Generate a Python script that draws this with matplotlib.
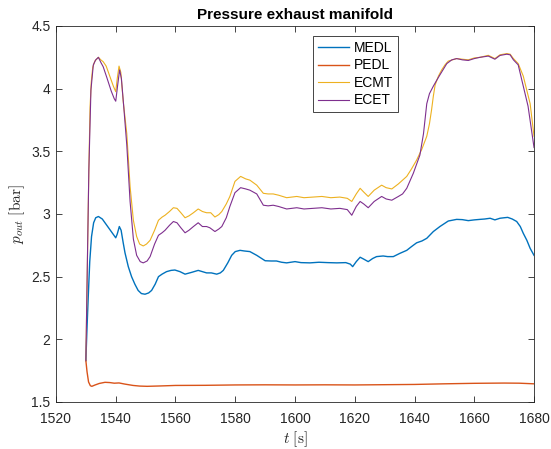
import matplotlib
matplotlib.use('Agg')
from matplotlib import pyplot as plt

plt.rcParams['font.family'] = ['Liberation Sans', 'DejaVu Sans']
plt.rcParams['mathtext.fontset'] = 'cm'

# time stamps and manifold pressure per model
t_medl = [1530.0, 1530.4, 1530.8, 1531.3, 1531.9, 1532.6, 1533.3, 1534.2, 1535.5, 1537.0,
          1538.5, 1540.0, 1540.5, 1541.2, 1541.8, 1542.5, 1543.1, 1544.2, 1545.3, 1546.4,
          1547.5, 1548.6, 1549.8, 1551.0, 1552.0, 1553.2, 1554.3, 1555.5, 1557.0, 1558.5,
          1559.8, 1561.5, 1563.2, 1565.5, 1567.6, 1569.0, 1570.4, 1572.0, 1573.8, 1575.0,
          1576.0, 1577.5, 1578.8, 1580.0, 1581.6, 1583.0, 1584.9, 1587.2, 1588.5, 1590.0,
          1592.0, 1593.8, 1595.5, 1597.2, 1600.0, 1602.0, 1605.0, 1608.0, 1611.0, 1614.0,
          1617.0, 1618.5, 1619.3, 1620.5, 1621.8, 1623.0, 1624.5, 1626.0, 1627.3, 1629.5,
          1631.0, 1632.9, 1635.1, 1637.4, 1639.0, 1640.7, 1642.5, 1644.1, 1646.3, 1648.5,
          1651.3, 1654.1, 1656.0, 1658.0, 1660.0, 1661.9, 1663.5, 1665.3, 1666.9, 1668.6,
          1670.0, 1671.2, 1672.7, 1674.2, 1675.4, 1676.4, 1677.6, 1678.7, 1680.0]
p_medl = [1.83, 2.10, 2.34, 2.62, 2.82, 2.93, 2.97, 2.98, 2.96, 2.91,
          2.86, 2.81, 2.84, 2.90, 2.87, 2.77, 2.69, 2.58, 2.50, 2.44,
          2.39, 2.365, 2.36, 2.37, 2.39, 2.44, 2.50, 2.52, 2.54, 2.55,
          2.553, 2.54, 2.52, 2.535, 2.55, 2.54, 2.53, 2.53, 2.52, 2.53,
          2.55, 2.61, 2.67, 2.70, 2.71, 2.705, 2.70, 2.67, 2.65, 2.627,
          2.625, 2.625, 2.615, 2.61, 2.62, 2.612, 2.61, 2.615, 2.612, 2.61,
          2.612, 2.60, 2.58, 2.62, 2.655, 2.64, 2.62, 2.645, 2.66, 2.665,
          2.66, 2.66, 2.686, 2.71, 2.74, 2.77, 2.785, 2.806, 2.86, 2.90,
          2.944, 2.957, 2.955, 2.947, 2.953, 2.957, 2.96, 2.966, 2.953, 2.966,
          2.97, 2.973, 2.96, 2.94, 2.90, 2.846, 2.79, 2.726, 2.67]

t_pedl = [1530.0, 1530.4, 1530.9, 1531.5, 1532.0, 1533.0, 1534.5, 1536.4, 1538.0, 1539.5,
          1541.1, 1543.0, 1545.8, 1548.0, 1550.5, 1555.0, 1560.0, 1570.0, 1580.0, 1590.0,
          1600.0, 1610.0, 1620.0, 1630.0, 1640.0, 1650.0, 1660.0, 1670.0, 1675.0, 1680.0]
p_pedl = [1.83, 1.74, 1.66, 1.63, 1.625, 1.635, 1.648, 1.657, 1.655, 1.65,
          1.652, 1.643, 1.632, 1.627, 1.625, 1.628, 1.632, 1.633, 1.636, 1.637,
          1.636, 1.637, 1.636, 1.638, 1.640, 1.645, 1.649, 1.651, 1.650, 1.645]

t_ecmt = [1530.0, 1530.5, 1531.0, 1531.4, 1531.8, 1532.3, 1533.0, 1534.2, 1535.0, 1535.8,
          1536.8, 1538.0, 1539.2, 1540.0, 1540.5, 1541.1, 1541.7, 1542.5, 1543.7, 1544.8,
          1545.9, 1547.0, 1548.0, 1549.2, 1550.3, 1551.5, 1553.0, 1554.3, 1555.5, 1556.5,
          1558.0, 1559.3, 1560.5, 1561.8, 1563.2, 1564.5, 1566.0, 1567.6, 1569.0, 1570.4,
          1571.8, 1573.2, 1574.5, 1575.5, 1577.0, 1578.2, 1579.9, 1581.8, 1583.5, 1584.9,
          1587.2, 1589.4, 1591.0, 1592.7, 1594.5, 1597.2, 1600.6, 1603.0, 1606.0, 1609.0,
          1612.0, 1615.0, 1617.5, 1619.0, 1620.5, 1621.8, 1623.0, 1624.5, 1626.5, 1629.0,
          1630.5, 1632.4, 1634.6, 1636.0, 1637.4, 1639.0, 1640.7, 1642.5, 1644.1, 1645.0,
          1645.7, 1646.3, 1646.9, 1648.0, 1649.1, 1650.2, 1651.3, 1654.1, 1656.0, 1658.0,
          1660.0, 1661.9, 1664.7, 1666.9, 1668.6, 1670.9, 1672.0, 1673.1, 1674.7, 1676.4,
          1678.7, 1680.0]
p_ecmt = [1.83, 2.6, 3.35, 3.85, 4.05, 4.17, 4.22, 4.25, 4.23, 4.215,
          4.18, 4.10, 4.02, 3.976, 4.08, 4.18, 4.13, 3.90, 3.64, 3.22,
          2.95, 2.82, 2.76, 2.745, 2.76, 2.79, 2.87, 2.95, 2.975, 2.99,
          3.02, 3.05, 3.045, 3.01, 2.97, 2.985, 3.01, 3.04, 3.02, 3.01,
          3.01, 2.976, 2.995, 3.02, 3.08, 3.14, 3.26, 3.30, 3.28, 3.27,
          3.23, 3.165, 3.16, 3.16, 3.15, 3.13, 3.14, 3.13, 3.135, 3.14,
          3.13, 3.135, 3.125, 3.10, 3.16, 3.205, 3.175, 3.14, 3.19, 3.23,
          3.21, 3.20, 3.24, 3.27, 3.30, 3.36, 3.43, 3.52, 3.62, 3.72,
          3.83, 3.94, 4.03, 4.10, 4.15, 4.19, 4.22, 4.24, 4.235, 4.23,
          4.245, 4.25, 4.266, 4.24, 4.27, 4.28, 4.275, 4.24, 4.20, 4.10,
          3.88, 3.62]

t_ecet = [1530.0, 1530.5, 1531.0, 1531.7, 1532.5, 1533.3, 1534.2, 1535.0, 1535.8, 1537.0,
          1538.5, 1539.5, 1540.0, 1540.6, 1541.3, 1541.9, 1542.7, 1543.7, 1544.8, 1545.9,
          1547.0, 1548.2, 1549.2, 1550.5, 1551.5, 1553.0, 1554.3, 1555.5, 1556.5, 1558.0,
          1559.3, 1560.5, 1561.8, 1563.2, 1564.5, 1566.0, 1567.6, 1569.0, 1570.4, 1571.5,
          1573.2, 1574.5, 1575.5, 1577.0, 1578.2, 1579.9, 1581.8, 1583.5, 1584.9, 1587.2,
          1589.4, 1591.0, 1592.7, 1594.5, 1597.2, 1600.6, 1603.0, 1606.0, 1609.0, 1612.0,
          1615.0, 1617.5, 1619.0, 1620.5, 1621.8, 1623.0, 1624.5, 1626.5, 1629.0, 1630.5,
          1632.4, 1634.6, 1636.0, 1637.4, 1639.6, 1641.8, 1643.0, 1644.1, 1645.0, 1646.3,
          1647.5, 1648.5, 1650.8, 1652.5, 1654.1, 1656.0, 1658.0, 1660.0, 1661.9, 1664.7,
          1666.9, 1668.6, 1670.9, 1672.0, 1673.1, 1674.7, 1676.4, 1678.0, 1680.0]
p_ecet = [1.83, 2.6, 3.35, 3.99, 4.19, 4.23, 4.25, 4.21, 4.175, 4.09,
          3.98, 3.92, 3.90, 4.02, 4.15, 4.08, 3.85, 3.55, 3.10, 2.80,
          2.67, 2.62, 2.61, 2.625, 2.66, 2.76, 2.83, 2.85, 2.87, 2.91,
          2.94, 2.93, 2.89, 2.85, 2.87, 2.90, 2.93, 2.90, 2.90, 2.89,
          2.86, 2.88, 2.90, 2.97, 3.06, 3.17, 3.21, 3.20, 3.19, 3.16,
          3.07, 3.065, 3.07, 3.06, 3.04, 3.05, 3.04, 3.045, 3.05, 3.04,
          3.045, 3.035, 2.99, 3.06, 3.10, 3.08, 3.05, 3.10, 3.14, 3.12,
          3.11, 3.14, 3.16, 3.205, 3.325, 3.47, 3.64, 3.88, 3.96, 4.02,
          4.07, 4.11, 4.20, 4.23, 4.24, 4.23, 4.225, 4.24, 4.25, 4.26,
          4.235, 4.265, 4.275, 4.27, 4.23, 4.19, 4.02, 3.86, 3.53]

fig = plt.figure(figsize=(5.51, 4.49), dpi=100)
ax = fig.add_axes([0.1016, 0.1047, 0.8676, 0.8374])

ax.plot(t_medl, p_medl, color='#0072BD', lw=1.0, label='MEDL')
ax.plot(t_pedl, p_pedl, color='#D95319', lw=1.0, label='PEDL')
ax.plot(t_ecmt, p_ecmt, color='#EDB120', lw=0.8, label='ECMT')
ax.plot(t_ecet, p_ecet, color='#7E2F8E', lw=0.8, label='ECET')

ax.set_xlim(1520, 1680)
ax.set_ylim(1.5, 4.5)
ax.set_xticks(range(1520, 1681, 20))
ax.set_yticks([1.5, 2, 2.5, 3, 3.5, 4, 4.5])
ax.set_yticklabels(['1.5', '2', '2.5', '3', '3.5', '4', '4.5'])
ax.tick_params(direction='in', top=True, right=True, length=4, width=0.6,
               labelsize=10, colors='#262626', pad=4)
ax.tick_params(axis='x', pad=7.5)
for s in ax.spines.values():
    s.set_linewidth(0.6)
    s.set_color('#262626')

ax.set_xlabel(r'$t\ [\mathrm{s}]$', fontsize=11, color='#262626', labelpad=2)
ax.set_ylabel(r'$p_{out}\ [\mathrm{bar}]$', fontsize=11, color='#262626', labelpad=3)
ax.set_title('Pressure exhaust manifold', fontsize=11, fontweight='bold', pad=5)

leg = ax.legend(loc='upper left', bbox_to_anchor=(0.538, 0.973), borderaxespad=0,
                fontsize=10, fancybox=False, framealpha=1, edgecolor='#262626',
                handlelength=2.2, handletextpad=0.4, borderpad=0.35, labelspacing=0.25)
leg.get_frame().set_linewidth(0.6)

fig.savefig('out.png', dpi=100)
